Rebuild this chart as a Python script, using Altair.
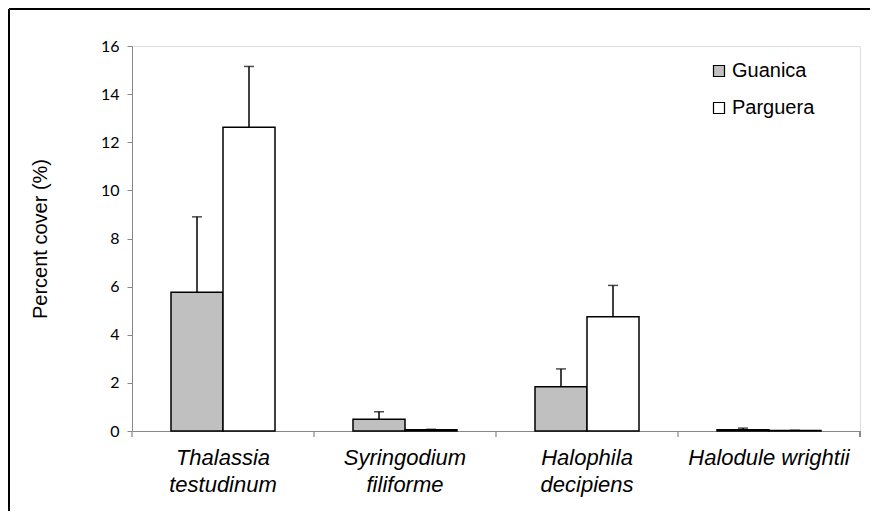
import altair as alt
import pandas as pd

species = ["Thalassia\ntestudinum", "Syringodium\nfiliforme", "Halophila\ndecipiens", "Halodule wrightii"]
sites = ["Guanica", "Parguera"]
guanica_mean = [5.77, 0.49, 1.84, 0.05]
guanica_err = [3.13, 0.31, 0.74, 0.07]
parguera_mean = [12.62, 0.05, 4.75, 0.02]
parguera_err = [2.53, 0.02, 1.30, 0.01]
y_ticks = [0, 2, 4, 6, 8, 10, 12, 14, 16]

rows = []
for i, sp in enumerate(species):
    rows.append({"species": sp, "site": "Guanica", "mean": guanica_mean[i], "upper": guanica_mean[i] + guanica_err[i]})
    rows.append({"species": sp, "site": "Parguera", "mean": parguera_mean[i], "upper": parguera_mean[i] + parguera_err[i]})
df = pd.DataFrame(rows)

W, H = 728, 385
xscale = alt.Scale(paddingInner=0, paddingOuter=0)
xoff = alt.XOffset("site:N", sort=sites, scale=alt.Scale(paddingOuter=0.75, paddingInner=0))

x_enc = alt.X("species:N", sort=species, scale=xscale, title=None,
              axis=alt.Axis(labelAngle=0, labelFont="Liberation Sans", labelFontStyle="italic",
                            labelFontSize=22, labelColor="black", labelLineHeight=27,
                            labelExpr="split(datum.label, '\\n')", labelPadding=16,
                            ticks=False, domainColor="#888888", domainWidth=1.2))
y_enc = alt.Y("mean:Q", scale=alt.Scale(domain=[0, 16], nice=False), title="Percent cover (%)",
              axis=alt.Axis(values=y_ticks, grid=False, labelFont="Lato", labelFontSize=16,
                            labelColor="black", tickColor="#888888", domainColor="#888888",
                            tickSize=5, labelPadding=8, titleFont="Liberation Sans",
                            titleFontSize=20, titleFontWeight="normal", titleColor="black",
                            titlePadding=50))

base = alt.Chart(df)

bars = base.mark_bar(stroke="black", strokeWidth=1.5).encode(
    x=x_enc, xOffset=xoff, y=y_enc,
    color=alt.Color("site:N", sort=sites,
                    scale=alt.Scale(domain=sites, range=["#c0c0c0", "#ffffff"]),
                    legend=alt.Legend(title=None, orient="none", legendX=577, legendY=15,
                                      symbolType="square", symbolSize=121,
                                      symbolStrokeColor="black", symbolStrokeWidth=1.2,
                                      labelFont="Liberation Sans", labelFontSize=20,
                                      labelColor="black", rowPadding=17, labelOffset=3)))

err = base.mark_rule(color="black", strokeWidth=1.5).encode(
    x=alt.X("species:N", sort=species, scale=xscale), xOffset=xoff,
    y="mean:Q", y2="upper:Q")

caps = base.mark_tick(color="black", thickness=1.5, size=10, orient="horizontal").encode(
    x=alt.X("species:N", sort=species, scale=xscale), xOffset=xoff,
    y="upper:Q")

tick_df = pd.DataFrame({"species": species})
xticks = alt.Chart(tick_df).mark_rule(color="#888888", strokeWidth=1.2).encode(
    x=alt.X("species:N", sort=species, scale=xscale, bandPosition=0),
    y=alt.value(H), y2=alt.value(H + 6))
endtick = alt.Chart(tick_df).mark_rule(color="#888888", strokeWidth=1.2).encode(
    x=alt.value(W), y=alt.value(H), y2=alt.value(H + 6))

frame_top = alt.Chart(tick_df).mark_rule(color="black", strokeWidth=2).encode(
    x=alt.value(-123), x2=alt.value(W + 20), y=alt.value(-37))
frame_left = alt.Chart(tick_df).mark_rule(color="black", strokeWidth=2).encode(
    x=alt.value(-123), y=alt.value(-37), y2=alt.value(H + 90))

chart = alt.layer(bars, err, caps, xticks, endtick, frame_top, frame_left).properties(
    width=W, height=H,
    padding={"left": 124, "top": 38, "right": 10, "bottom": 80},
    autosize=alt.AutoSizeParams(type="none"),
).configure_view(stroke=None).configure(background="white")

chart.save("out.html", embed_options={"renderer": "svg", "actions": False})
